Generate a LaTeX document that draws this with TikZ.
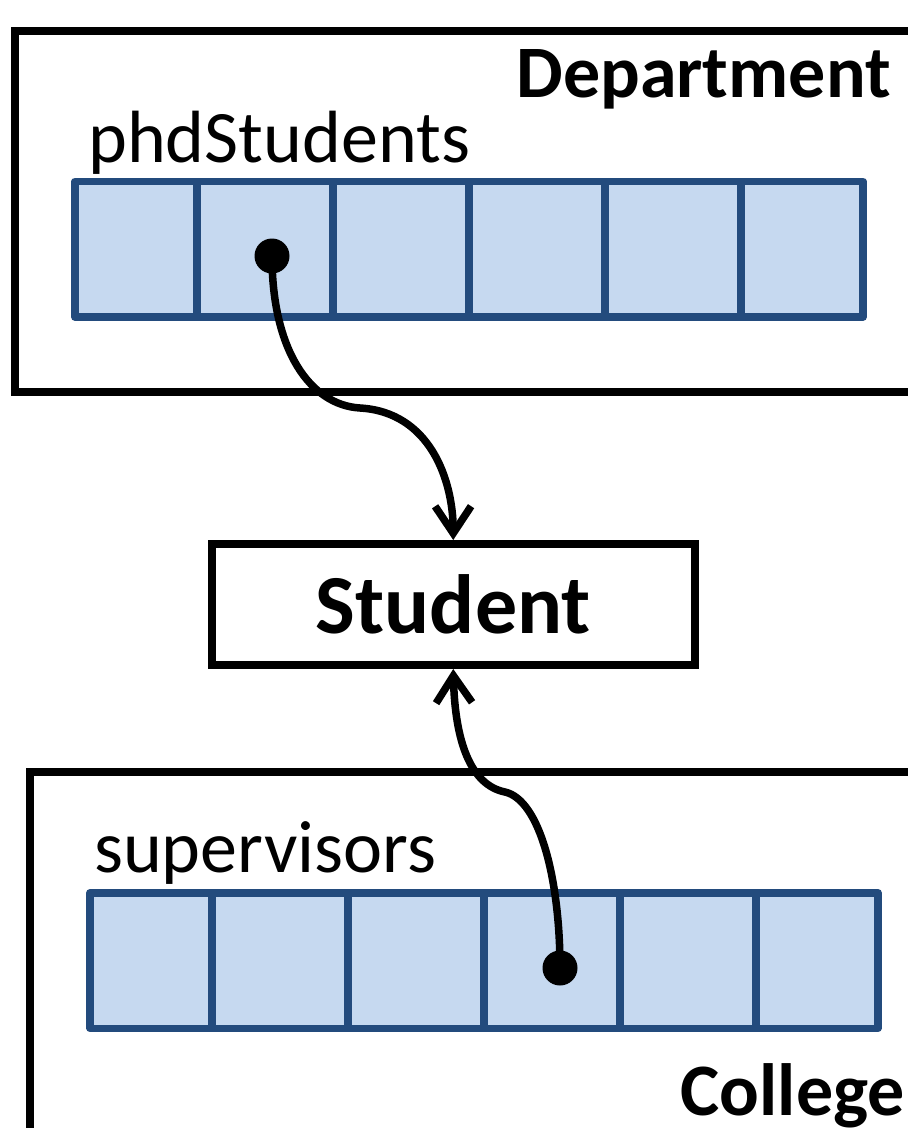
\documentclass[tikz,border=0pt]{standalone}
\usepackage{fontspec}
\setmainfont{Carlito}
\usetikzlibrary{arrows.meta}
\definecolor{cellfill}{HTML}{C6D9F0}
\definecolor{cellline}{HTML}{234B7D}
\begin{document}
\begin{tikzpicture}[x=1pt,y=-1pt,
  frame/.style={draw=black,line width=8pt},
  cell/.style={draw=cellline,fill=cellfill,line width=7.5pt,line join=round,
    inner sep=0pt,outer sep=0pt,minimum height=135.5pt},
  ptr/.style={circle,fill=black,inner sep=0pt,minimum size=35pt},
  link/.style={draw=black,line width=7.5pt,
    -{Straight Barb[length=27pt,width=36pt]}},
  label/.style={font=\fontsize{74}{88}\selectfont,inner sep=0pt},
  title/.style={font=\fontsize{74}{88}\selectfont\bfseries,inner sep=0pt},
  ]
\useasboundingbox (0,0) rectangle (908,1128);
\begin{scope}
\clip (0,0) rectangle (908,1128);

% enclosing objects
\draw[frame] (15,31) rectangle (980,392);
\draw[frame] (30,772) rectangle (980,1220);
\node[title,anchor=base east] (dept) at (891,97) {Department};
\node[title,anchor=base east] (coll) at (905,1115) {College};

% array fields
\node[label,anchor=base west] (phd) at (88,162) {phdStudents};
\node[label,anchor=base west] (sup) at (94,872) {supervisors};

\foreach \i/\a/\b in {1/75/197,2/197/333,3/333/469,4/469/605,5/605/741,6/741/863}
  \node[cell,minimum width={\b-\a}] (t\i) at ({(\a+\b)/2},249.25) {};
\foreach \i/\a/\b in {1/90/212,2/212/348,3/348/484,4/484/620,5/620/756,6/756/878}
  \node[cell,minimum width={\b-\a}] (b\i) at ({(\a+\b)/2},960.5) {};

% the shared object
\node[frame,minimum width=483.5pt,minimum height=121pt,
  inner sep=0pt,font=\fontsize{84}{100}\selectfont\bfseries] (stu) at (453.25,604.5) {Student};

% references
\node[ptr] (p1) at (272,256) {};
\node[ptr] (p2) at (560,968) {};
\draw[link] (p1.center) .. controls (272,350) and (310,405) .. (360,408)
  .. controls (430,412) and (453,480) .. (stu.north);
\draw[link] (p2.center) .. controls (560,880) and (540,800) .. (505,792)
  .. controls (470,785) and (455,740) .. (stu.south);
\end{scope}
\end{tikzpicture}
\end{document}
